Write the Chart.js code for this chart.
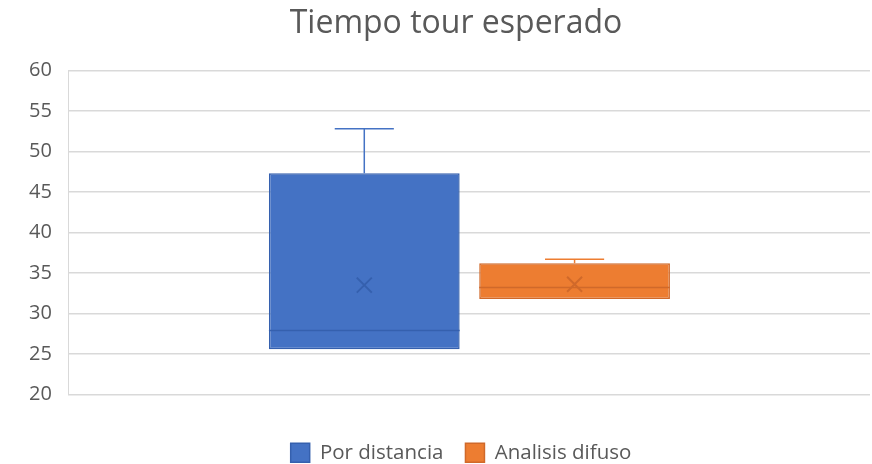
<!DOCTYPE html>
<html>
<head>
<meta charset="utf-8">
<script src="https://cdn.jsdelivr.net/npm/chart.js@4.4.0/dist/chart.umd.min.js"></script>
<style>
  html, body { margin: 0; padding: 0; background: #ffffff; }
  #wrap { width: 872px; height: 464px; }
</style>
</head>
<body>
<div id="wrap"><canvas id="box-chart"></canvas></div>
<script>
// box plot values, one entry per series
var categories = [''];
var seriesNames = ['Por distancia', 'Analisis difuso'];
var minVals = [25.6, 31.8];
var q1Vals = [25.6, 31.8];
var medianVals = [27.9, 33.2];
var q3Vals = [47.3, 36.2];
var maxVals = [52.8, 36.7];
var meanVals = [33.5, 33.6];
var yTicks = [20, 25, 30, 35, 40, 45, 50, 55, 60];

var fills = ['#4472C4', '#ED7D31'];
var edges = ['#3560AE', '#D0692A'];

var datasets = [];
for (var i = 0; i < seriesNames.length; i++) {
    datasets.push({
        label: seriesNames[i],
        data: [[q1Vals[i], q3Vals[i]]],
        backgroundColor: fills[i],
        borderColor: edges[i],
        borderWidth: 1.5,
        borderSkipped: false,
        categoryPercentage: 0.525,
        barPercentage: 0.907
    });
}

// whiskers, median line and mean cross on top of each box
var boxExtras = {
    id: 'boxExtras',
    afterLayout: function (chart) {
        // title and legend sit a little right of the canvas centre
        chart.titleBlock.left += 15;
        chart.titleBlock.right += 15;
        chart.legend.left += 20;
        chart.legend.right += 20;
        chart.legend.top += 9;
        chart.legend.bottom += 9;
    },
    afterDatasetsDraw: function (chart) {
        var ctx = chart.ctx;
        var y = chart.scales.y;
        ctx.save();
        for (var i = 0; i < seriesNames.length; i++) {
            var bar = chart.getDatasetMeta(i).data[0];
            var x = bar.x;
            var half = bar.width / 2;
            var cap = bar.width * 0.155;

            ctx.strokeStyle = fills[i];
            ctx.lineWidth = 1.5;
            ctx.beginPath();
            if (maxVals[i] > q3Vals[i]) {
                ctx.moveTo(x, y.getPixelForValue(q3Vals[i]));
                ctx.lineTo(x, y.getPixelForValue(maxVals[i]));
                ctx.moveTo(x - cap, y.getPixelForValue(maxVals[i]));
                ctx.lineTo(x + cap, y.getPixelForValue(maxVals[i]));
            }
            if (minVals[i] < q1Vals[i]) {
                ctx.moveTo(x, y.getPixelForValue(q1Vals[i]));
                ctx.lineTo(x, y.getPixelForValue(minVals[i]));
                ctx.moveTo(x - cap, y.getPixelForValue(minVals[i]));
                ctx.lineTo(x + cap, y.getPixelForValue(minVals[i]));
            }
            ctx.stroke();

            ctx.strokeStyle = edges[i];
            ctx.lineWidth = 1.5;
            ctx.beginPath();
            var my = y.getPixelForValue(medianVals[i]);
            ctx.moveTo(x - half, my);
            ctx.lineTo(x + half, my);
            ctx.stroke();

            var cy = y.getPixelForValue(meanVals[i]);
            var s = 7.5;
            ctx.lineWidth = 2;
            ctx.beginPath();
            ctx.moveTo(x - s, cy - s);
            ctx.lineTo(x + s, cy + s);
            ctx.moveTo(x + s, cy - s);
            ctx.lineTo(x - s, cy + s);
            ctx.stroke();
        }
        ctx.restore();
    }
};

var boxConfig = {
    type: 'bar',
    data: {
        labels: categories,
        datasets: datasets
    },
    plugins: [boxExtras],
    options: {
        responsive: true,
        maintainAspectRatio: false,
        animation: false,
        layout: {
            padding: { left: 12, right: 2, top: 0, bottom: 0 }
        },
        plugins: {
            title: {
                display: true,
                text: 'Tiempo tour esperado',
                color: '#595959',
                font: { family: 'Open Sans', size: 32, weight: 'normal' },
                padding: { top: 5, bottom: 27 }
            },
            legend: {
                position: 'bottom',
                labels: {
                    color: '#595959',
                    font: { family: 'Open Sans', size: 20.5 },
                    boxWidth: 19,
                    boxHeight: 19,
                    padding: 22
                }
            },
            tooltip: { enabled: false }
        },
        scales: {
            x: {
                ticks: { display: false },
                grid: { display: false },
                border: { display: false },
                afterFit: function (axis) { axis.height = 17; }
            },
            y: {
                min: 20,
                max: 60,
                afterBuildTicks: function (axis) {
                    axis.ticks = yTicks.map(function (v) { return { value: v }; });
                },
                ticks: {
                    color: '#595959',
                    font: { family: 'Open Sans', size: 20 },
                    padding: 17
                },
                grid: { color: '#D9D9D9', lineWidth: 1.5, drawTicks: false },
                border: { display: true, color: '#D9D9D9' }
            }
        }
    }
};

var boxContext = document.getElementById('box-chart').getContext('2d');
window.myBox = new Chart(boxContext, boxConfig);
</script>
</body>
</html>
